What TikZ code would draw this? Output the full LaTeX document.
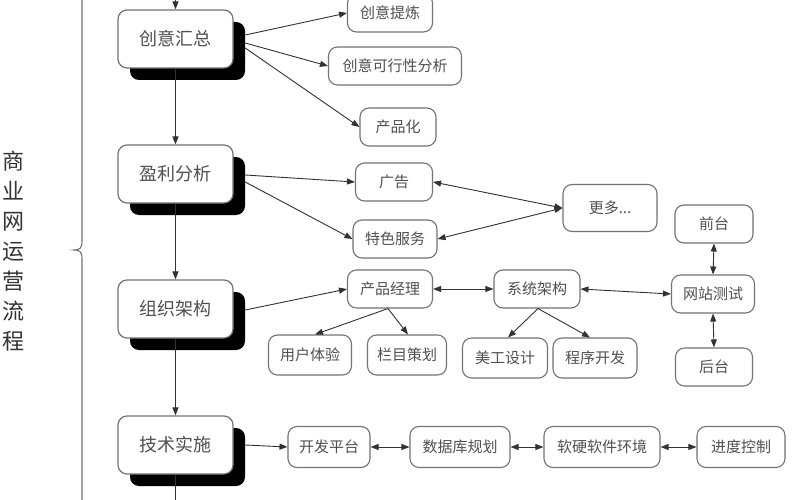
\documentclass[tikz,border=0pt]{standalone}
\usepackage{fontspec}
\setmainfont{Noto Sans CJK SC}
\usetikzlibrary{arrows.meta,calc}
\definecolor{txt}{RGB}{80,80,80}
\definecolor{bd}{RGB}{115,115,115}
\definecolor{ln}{RGB}{50,50,50}
\begin{document}
\begin{tikzpicture}[x=1pt,y=-1pt,
 mainbox/.style={draw=bd, line width=1.2pt, fill=white, rounded corners=9pt, minimum width=115pt, minimum height=58pt, inner sep=0pt, font=\fontsize{18}{20}\selectfont, text=txt},
 shadowbox/.style={fill=black, rounded corners=9pt, minimum width=115pt, minimum height=58pt, inner sep=0pt},
 subbox/.style={draw=bd, line width=1.1pt, fill=white, rounded corners=9pt, minimum height=38pt, inner sep=0pt, font=\fontsize{15}{17}\selectfont, text=txt},
 arr/.style={-{Triangle[length=8pt,width=6pt]}, line width=0.9pt, draw=ln},
 darr/.style={{Triangle[length=8pt,width=6pt]}-{Triangle[length=8pt,width=6pt]}, line width=0.9pt, draw=ln},
 plain/.style={line width=0.9pt, draw=ln}
]
\useasboundingbox[fill=white] (0,0) rectangle (800,500);

% brace and side title
\draw[bd, line width=1.1pt] (82,-5) -- (82,241) .. controls (82,248) and (80,250) .. (74,250) .. controls (80,250) and (82,252) .. (82,259) -- (82,505);
\node[font=\fontsize{22}{30}\selectfont, text=black!80, align=center] (title) at (13,251) {商\\业\\网\\运\\营\\流\\程};

% top/bottom ends of main flow
\coordinate (top) at (175.5,-2);
\coordinate (bot) at (175.5,502);

% shadows
\node[shadowbox] (s1) at (187.5,51) {};
\node[shadowbox] (s2) at (187.5,186) {};
\node[shadowbox] (s3) at (187.5,321) {};
\node[shadowbox] (s4) at (187.5,457) {};

% main boxes
\node[mainbox] (m1) at (175.5,39) {创意汇总};
\node[mainbox] (m2) at (175.5,174) {盈利分析};
\node[mainbox] (m3) at (175.5,309) {组织架构};
\node[mainbox] (m4) at (175.5,445) {技术实施};

% sub boxes
\node[subbox, minimum width=85pt] (a1) at (390,13) {创意提炼};
\node[subbox, minimum width=133pt] (a2) at (395,66) {创意可行性分析};
\node[subbox, minimum width=76pt] (a3) at (398,127) {产品化};

\node[subbox, minimum width=77pt] (b1) at (394,182) {广告};
\node[subbox, minimum width=84pt] (b2) at (395,239) {特色服务};
\node[subbox, minimum width=94pt, minimum height=47pt] (b3) at (610,208) {更多...};

\node[subbox, minimum width=85pt] (pm) at (390,289) {产品经理};
\node[subbox, minimum width=86pt] (sa) at (537,289) {系统架构};
\node[subbox, minimum width=83pt] (wt) at (713,294) {网站测试};
\node[subbox, minimum width=78pt] (qt) at (714,224) {前台};
\node[subbox, minimum width=77pt] (ht) at (714,367) {后台};
\node[subbox, minimum width=83pt, minimum height=40pt] (ux) at (310,355) {用户体验};
\node[subbox, minimum width=79pt, minimum height=40pt] (lm) at (407,355) {栏目策划};
\node[subbox, minimum width=85pt, minimum height=40pt] (mg) at (505,358) {美工设计};
\node[subbox, minimum width=84pt, minimum height=40pt] (cx) at (595,358) {程序开发};

\node[subbox, minimum width=82pt, minimum height=41pt] (c1) at (329,447) {开发平台};
\node[subbox, minimum width=100pt, minimum height=41pt] (c2) at (460,447) {数据库规划};
\node[subbox, minimum width=116pt, minimum height=41pt] (c3) at (602,447) {软硬软件环境};
\node[subbox, minimum width=88pt, minimum height=41pt] (c4) at (741,447) {进度控制};

% main flow
\draw[arr] (top) -- (m1.north);
\draw[arr] (m1.south) -- (m2.north);
\draw[arr] (m2.south) -- (m3.north);
\draw[arr] (m3.south) -- (m4.north);
\draw[plain] (m4.south) -- (bot);

% creative branch
\draw[arr] ([yshift=16pt]s1.east) -- (a1.west);
\draw[arr] ([yshift=8pt]s1.east) -- (a2.west);
\draw[arr] ([yshift=3pt]s1.east) -- (a3.west);

% profit branch
\draw[arr] ([yshift=11pt]s2.east) -- (b1.west);
\draw[arr] ([yshift=4pt]s2.east) -- (b2.west);
\draw[darr] (b1.east) -- (b3.west);
\draw[darr] (b2.east) -- (b3.west);

% organisation branch
\draw[arr] ([yshift=11pt]s3.east) -- (pm.west);
\draw[darr] (pm.east) -- (sa.west);
\draw[darr] (sa.east) -- (wt.west);
\draw[darr] (qt.south) -- (wt.north);
\draw[darr] (wt.south) -- (ht.north);
\draw[arr] ([xshift=-2pt]pm.south) -- ([xshift=5pt]ux.north);
\draw[arr] ([xshift=-2pt]pm.south) -- ([xshift=1pt]lm.north);
\draw[arr] ([xshift=1pt]sa.south) -- ([xshift=3pt]mg.north);
\draw[arr] ([xshift=1pt]sa.south) -- ([xshift=-5pt]cx.north);

% technical branch
\draw[arr] ([yshift=12pt]s4.east) -- (c1.west);
\draw[darr] (c1.east) -- (c2.west);
\draw[darr] (c2.east) -- (c3.west);
\draw[darr] (c3.east) -- (c4.west);
\end{tikzpicture}
\end{document}
